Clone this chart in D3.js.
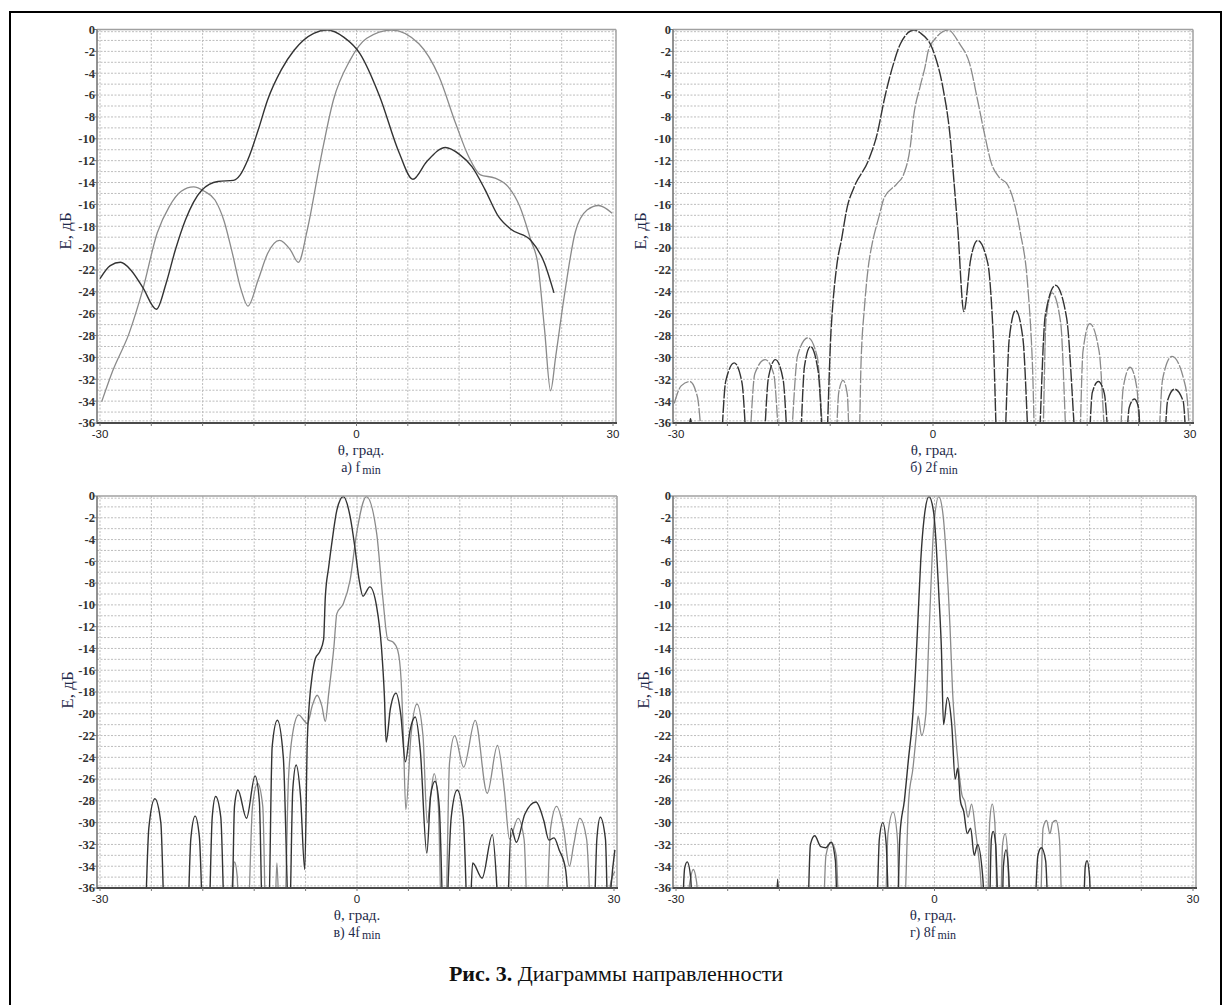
<!DOCTYPE html>
<html>
<head>
<meta charset="utf-8">
<script src="https://cdn.jsdelivr.net/npm/d3@7"></script>
<style>
  body { margin: 0; background: #fff; }
  svg { display: block; }
</style>
</head>
<body>
<div id="chart"></div>
<script>
// Диаграммы направленности: [θ, E дБ]; нули ниже -36 обрезаются рамкой
const aDark = [[-30,-22.8],[-28.8,-21.6],[-27.6,-21.3],[-26.4,-22.0],[-25.0,-23.6],[-23.4,-25.6],[-22.3,-23.3],[-21.2,-20.2],[-20.0,-17.4],[-18.1,-14.7],[-16.2,-13.9],[-14.4,-13.8],[-13.6,-13.3],[-12.7,-11.9],[-11.5,-9.2],[-10.4,-6.45],[-8.8,-3.7],[-7.3,-1.9],[-5.0,-0.35],[-3.4,-0.05],[-1.5,-0.7],[0.4,-2.2],[2.7,-6.1],[5.0,-11.3],[6.6,-13.7],[8.2,-12.1],[10.4,-10.8],[12.0,-11.4],[13.5,-12.55],[15.0,-14.6],[16.6,-17.1],[18.1,-18.3],[20.4,-19.3],[22.0,-21.4],[23.1,-24.1]];
const aGray = [[-29.8,-34.05],[-28.5,-31.2],[-26.6,-27.8],[-25.0,-23.8],[-23.3,-18.6],[-21.9,-16.2],[-20.5,-14.8],[-19.05,-14.4],[-17.8,-14.8],[-16.55,-15.6],[-15.5,-17.5],[-14.6,-20.2],[-13.5,-23.8],[-12.7,-25.3],[-11.5,-22.9],[-10.4,-20.5],[-9.0,-19.3],[-7.7,-20.2],[-6.8,-21.3],[-5.75,-18.3],[-4.2,-11.9],[-2.7,-6.45],[-0.75,-2.8],[1.2,-0.8],[4.1,-0.05],[7.3,-1.3],[9.65,-4.3],[11.6,-8.6],[13.1,-11.6],[14.5,-13.3],[16.2,-13.6],[17.75,-14.4],[19.1,-16.2],[20.4,-19.3],[21.2,-21.4],[22.0,-27.5],[22.7,-33.05],[23.3,-29.9],[24.3,-24.4],[25.6,-18.5],[27.0,-16.5],[28.3,-16.1],[29.9,-16.8]];

const bDark = [[-30.4,-40],[-28.8,-40],[-28.3,-35.6],[-27.8,-40],[-25.0,-40],[-24.2,-32.2],[-23.2,-30.5],[-22.3,-32.3],[-21.5,-40],[-20.0,-40],[-19.2,-31.8],[-18.4,-30.2],[-17.5,-32.0],[-16.7,-40],[-15.7,-40],[-15.0,-30.8],[-14.3,-29.0],[-13.4,-31.3],[-12.6,-40],[-11.9,-27.5],[-11.2,-21.4],[-10.7,-19.3],[-10.0,-16.2],[-9.2,-14.4],[-7.5,-11.9],[-6.5,-9.5],[-5.7,-6.45],[-4.6,-3.1],[-3.8,-1.3],[-2.2,-0.05],[-1.5,-0.3],[0.0,-1.9],[1.2,-5.5],[1.96,-9.5],[2.5,-14.4],[2.9,-18.3],[3.6,-25.8],[4.4,-21.0],[5.2,-19.3],[6.4,-21.4],[7.0,-27.5],[7.6,-40],[8.2,-40],[8.9,-28.3],[9.65,-25.7],[10.5,-28.3],[11.4,-40],[12.15,-40],[13.1,-26.2],[14.3,-23.4],[15.6,-26.4],[17.0,-40],[18.0,-40],[18.6,-33.2],[19.3,-32.2],[20.0,-33.3],[20.8,-40],[22.35,-40],[22.9,-34.6],[23.5,-33.8],[24.0,-34.6],[24.35,-40],[26.8,-40],[27.4,-33.9],[28.2,-32.9],[29.2,-34.0],[29.8,-40],[30.4,-40]];
const bGray = [[-30.2,-34.2],[-29.4,-32.6],[-28.4,-32.2],[-27.5,-33.6],[-26.6,-40],[-21.7,-40],[-20.8,-31.5],[-19.6,-30.2],[-18.6,-31.5],[-17.65,-40],[-16.9,-40],[-15.8,-29.8],[-14.6,-28.2],[-13.5,-30.0],[-12.5,-40],[-11.5,-40],[-11.0,-33.2],[-10.5,-32.1],[-10.0,-33.4],[-9.65,-40],[-8.7,-40],[-8.4,-30.5],[-8.0,-25.4],[-7.5,-21.4],[-7.1,-19.6],[-6.3,-17.1],[-5.7,-15.4],[-4.2,-14.1],[-3.4,-13.2],[-2.65,-10.7],[-2.27,-8.0],[-1.5,-5.2],[-0.92,-3.4],[-0.54,-1.9],[0.3,-0.8],[1.77,-0.05],[3.1,-1.3],[4.27,-3.1],[5.2,-6.45],[6.0,-9.5],[6.8,-12.2],[7.7,-13.5],[8.7,-14.2],[9.5,-15.9],[10.2,-18.6],[11.0,-22.9],[11.6,-30.5],[12.0,-40],[12.7,-40],[13.2,-26.5],[13.9,-24.1],[14.9,-26.8],[15.8,-40],[17.0,-40],[17.5,-29.5],[18.3,-26.9],[19.4,-29.5],[20.4,-40],[21.65,-40],[22.2,-32.8],[23.0,-30.9],[23.8,-32.8],[24.35,-40],[26.1,-40],[26.8,-32.0],[27.9,-29.9],[29.3,-32.1],[29.7,-34.0],[30.1,-40]];

const cDark = [[-30.4,-40],[-24.85,-40],[-24.3,-30.5],[-23.6,-27.8],[-22.9,-30.0],[-22.4,-40],[-19.85,-40],[-19.4,-31.5],[-18.9,-29.4],[-18.4,-31.3],[-17.9,-40],[-17.35,-40],[-16.9,-29.5],[-16.5,-27.6],[-15.9,-29.5],[-15.4,-40],[-14.65,-40],[-14.3,-28.5],[-13.9,-27.0],[-12.9,-29.6],[-11.9,-25.7],[-11.4,-28.0],[-11.0,-40],[-10.35,-40],[-9.9,-23.0],[-9.3,-20.6],[-8.6,-24.0],[-7.9,-40],[-7.5,-27.0],[-7.1,-24.7],[-6.6,-27.5],[-6.1,-34.3],[-5.8,-22.4],[-5.6,-19.4],[-5.2,-16.3],[-4.85,-14.9],[-4.35,-14.3],[-3.9,-13.2],[-3.7,-9.3],[-3.3,-6.5],[-2.9,-4.1],[-2.35,-1.3],[-1.6,-0.05],[-0.8,-1.9],[-0.25,-4.7],[0.25,-7.7],[0.7,-9.2],[1.5,-8.35],[2.3,-10.2],[2.85,-13.85],[3.2,-18.4],[3.4,-22.6],[3.9,-19.5],[4.55,-18.1],[5.1,-20.0],[5.65,-24.4],[6.2,-21.5],[6.8,-20.3],[7.4,-23.5],[8.15,-32.8],[8.6,-27.5],[9.1,-26.2],[9.6,-28.5],[10.15,-40],[10.3,-40],[11.0,-29.5],[11.7,-27.0],[12.4,-29.5],[13.0,-40],[13.1,-40],[13.5,-33.7],[14.6,-35.1],[15.8,-31.1],[16.8,-40],[17.45,-40],[18.0,-30.5],[18.6,-31.8],[19.6,-29.2],[20.9,-28.1],[21.8,-29.8],[22.4,-31.6],[23.0,-31.4],[23.6,-32.5],[24.35,-34.3],[25.0,-40],[27.6,-40],[28.0,-31.5],[28.4,-29.5],[29.0,-31.5],[29.35,-40],[29.6,-36.5],[30.1,-32.5]];
const cGray = [[-30.4,-40],[-14.85,-40],[-14.5,-34.8],[-14.3,-33.6],[-14.0,-34.8],[-13.7,-40],[-12.8,-40],[-12.2,-28.5],[-11.6,-26.4],[-11.0,-28.5],[-10.6,-40],[-9.65,-40],[-9.35,-33.7],[-9.0,-40],[-8.5,-40],[-8.0,-26.0],[-7.4,-21.3],[-6.8,-20.1],[-6.3,-20.5],[-5.8,-20.9],[-5.2,-19.2],[-4.65,-18.3],[-4.1,-19.3],[-3.7,-20.7],[-3.3,-18.1],[-2.7,-13.9],[-2.35,-10.8],[-1.6,-9.9],[-0.8,-7.7],[-0.05,-3.45],[1.1,-0.05],[2.3,-3.45],[3.0,-9.25],[3.6,-13.2],[4.2,-13.4],[4.75,-14.15],[5.15,-16.9],[5.4,-21.8],[5.7,-28.8],[6.3,-22.0],[7.0,-19.1],[7.7,-22.0],[8.2,-30.0],[8.6,-27.5],[9.0,-25.5],[9.5,-28.5],[9.9,-40],[10.3,-40],[10.8,-24.5],[11.4,-22.0],[12.45,-24.9],[13.8,-20.6],[15.2,-27.3],[16.4,-22.9],[17.2,-27.0],[17.8,-31.5],[18.8,-29.6],[19.5,-31.5],[20.0,-40],[22.0,-40],[22.6,-30.5],[23.3,-28.5],[24.1,-30.5],[24.8,-34.0],[25.3,-32.0],[26.0,-29.6],[26.8,-31.5],[27.45,-40],[29.0,-40],[29.6,-35.6],[30.1,-34.5]];

const dDark = [[-30.4,-40],[-29.4,-40],[-29.0,-34.2],[-28.7,-33.6],[-28.3,-35.0],[-28.0,-40],[-18.5,-40],[-18.2,-35.2],[-17.9,-40],[-14.8,-40],[-14.4,-32.0],[-13.9,-31.2],[-13.2,-32.2],[-12.6,-32.3],[-12.0,-31.8],[-11.5,-33.5],[-11.2,-40],[-6.8,-40],[-6.4,-31.5],[-6.0,-30.0],[-5.6,-32.0],[-5.2,-40],[-4.4,-40],[-4.0,-31.0],[-3.5,-28.0],[-3.0,-24.0],[-2.6,-21.0],[-2.2,-16.0],[-1.9,-11.0],[-1.6,-6.0],[-1.2,-2.0],[-0.64,-0.05],[-0.1,-1.5],[0.2,-4.5],[0.5,-9.0],[0.8,-14.0],[1.05,-21.0],[1.5,-18.5],[2.0,-21.0],[2.4,-26.0],[2.7,-25.0],[3.0,-28.0],[3.4,-29.0],[3.8,-31.0],[4.2,-30.5],[4.6,-33.0],[5.0,-32.0],[5.6,-35.0],[6.0,-40],[6.3,-40],[6.6,-31.5],[6.8,-30.8],[7.1,-32.0],[7.5,-40],[7.8,-40],[8.0,-34.0],[8.3,-32.5],[8.6,-34.5],[8.9,-40],[11.5,-40],[12.0,-33.0],[12.4,-32.3],[12.9,-33.5],[13.3,-40],[17.2,-40],[17.5,-34.0],[17.7,-33.5],[18.0,-35.0],[18.2,-40],[30.4,-40]];
const dGray = [[-30.4,-40],[-29.0,-40],[-28.4,-35.5],[-28.0,-34.3],[-27.6,-35.5],[-27.3,-40],[-13.0,-40],[-12.6,-33.0],[-12.0,-31.8],[-11.4,-33.0],[-11.0,-40],[-5.8,-40],[-5.4,-31.0],[-4.8,-29.0],[-4.3,-31.5],[-4.0,-40],[-3.6,-40],[-3.0,-28.0],[-2.5,-25.0],[-2.1,-21.8],[-1.9,-20.2],[-1.5,-22.0],[-1.0,-20.0],[-0.7,-14.0],[-0.4,-8.0],[-0.1,-3.0],[0.5,-0.05],[1.0,-1.8],[1.4,-6.0],[1.8,-12.0],[2.1,-18.0],[2.4,-21.5],[2.8,-25.0],[3.2,-27.5],[3.5,-28.0],[3.9,-29.5],[4.3,-28.3],[4.8,-31.0],[5.3,-34.5],[5.8,-40],[6.1,-40],[6.4,-30.0],[6.7,-28.3],[7.0,-30.0],[7.4,-40],[7.6,-40],[7.9,-32.0],[8.2,-31.0],[8.5,-33.0],[8.8,-40],[12.2,-40],[12.6,-30.5],[13.0,-29.8],[13.4,-31.0],[13.7,-30.0],[14.1,-29.8],[14.5,-31.5],[14.9,-40],[30.4,-40]];

// оси
const yTicks = d3.range(0, -37, -2);
const yMinor = d3.range(-1, -36, -1);
const xTicks = [-30, 0, 30];
const xGrid = d3.range(-30, 31, 6);
const subLabels = ['а) f', 'б) 2f', 'в) 4f', 'г) 8f'];

const panels = [
    { x0: 97,  x1: 616,  y0: 29.5, y1: 423, eX: 65,  eY: 231, tX: 361, dark: aDark, gray: aGray, dash: null },
    { x0: 673, x1: 1193, y0: 29.5, y1: 423, eX: 640, eY: 231, tX: 934, dark: bDark, gray: bGray, dash: '13,1.5' },
    { x0: 97,  x1: 617,  y0: 496,  y1: 888, eX: 67,  eY: 690, tX: 357, dark: cDark, gray: cGray, dash: null },
    { x0: 673, x1: 1196, y0: 496,  y1: 888, eX: 643, eY: 690, tX: 933, dark: dDark, gray: dGray, dash: null }
];

const svg = d3.select('#chart').append('svg')
    .attr('width', 1231)
    .attr('height', 1005);

// внешняя рамка
svg.append('rect')
    .attr('x', 10).attr('y', 12)
    .attr('width', 1211).attr('height', 1010)
    .attr('fill', 'none')
    .attr('stroke', '#000')
    .attr('stroke-width', 2);

panels.forEach((p, i) => {
    const x = d3.scaleLinear().domain([-30, 30]).range([p.x0 + 3, p.x1 - 3]);
    const y = d3.scaleLinear().domain([0, -36]).range([p.y0, p.y1]);
    const g = svg.append('g');

    g.append('rect')
        .attr('x', p.x0).attr('y', p.y0)
        .attr('width', p.x1 - p.x0).attr('height', p.y1 - p.y0)
        .attr('fill', '#fff');

    // сетка
    g.selectAll('.hg')
        .data(yMinor.concat([-0.2, -35.8]))
        .join('line')
        .attr('x1', p.x0).attr('x2', p.x1)
        .attr('y1', d => y(d)).attr('y2', d => y(d))
        .attr('stroke', '#bdbdbd')
        .attr('stroke-width', 1)
        .attr('stroke-dasharray', '2,1.5');

    g.selectAll('.vg')
        .data(xGrid)
        .join('line')
        .attr('x1', d => x(d)).attr('x2', d => x(d))
        .attr('y1', p.y0).attr('y2', p.y1)
        .attr('stroke', '#bdbdbd')
        .attr('stroke-width', 1)
        .attr('stroke-dasharray', '2,1.5');

    // кривые
    const clipId = 'clip' + i;
    svg.append('clipPath').attr('id', clipId)
        .append('rect')
        .attr('x', p.x0).attr('y', p.y0 - 3)
        .attr('width', p.x1 - p.x0).attr('height', p.y1 - p.y0 + 3);

    const line = d3.line()
        .x(d => x(d[0]))
        .y(d => y(d[1]))
        .curve(d3.curveMonotoneX);

    [[p.gray, '#8a8a8a', 1.3], [p.dark, '#333', 1.4]].forEach(([data, color, w]) => {
        g.append('path')
            .datum(data)
            .attr('clip-path', `url(#${clipId})`)
            .attr('fill', 'none')
            .attr('stroke', color)
            .attr('stroke-width', w)
            .attr('stroke-dasharray', p.dash)
            .attr('d', line);
    });

    // рамка графика
    g.append('line').attr('x1', p.x0).attr('x2', p.x1).attr('y1', p.y0).attr('y2', p.y0)
        .attr('stroke', '#a0a0a0').attr('stroke-width', 1.5);
    g.append('line').attr('x1', p.x1).attr('x2', p.x1).attr('y1', p.y0).attr('y2', p.y1)
        .attr('stroke', '#a0a0a0').attr('stroke-width', 1.5);
    g.append('line').attr('x1', p.x0).attr('x2', p.x0).attr('y1', p.y0).attr('y2', p.y1 + 1)
        .attr('stroke', '#777').attr('stroke-width', 1.6);
    g.append('line').attr('x1', p.x0).attr('x2', p.x1 + 1).attr('y1', p.y1).attr('y2', p.y1)
        .attr('stroke', '#4a4a4a').attr('stroke-width', 2.2);

    // метки Y
    g.selectAll('.yt')
        .data(yTicks)
        .join('line')
        .attr('x1', p.x0 - 3).attr('x2', p.x0)
        .attr('y1', d => y(d)).attr('y2', d => y(d))
        .attr('stroke', '#777');

    g.selectAll('.yl')
        .data(yTicks)
        .join('text')
        .attr('x', p.x0 - 2)
        .attr('y', d => y(d))
        .attr('dy', '0.35em')
        .attr('text-anchor', 'end')
        .style('font-family', '"Liberation Serif", serif')
        .style('font-size', '12.5px')
        .style('font-weight', 'bold')
        .style('fill', '#333')
        .text(d => d);

    // метки X
    g.selectAll('.xt')
        .data(xGrid)
        .join('line')
        .attr('x1', d => x(d)).attr('x2', d => x(d))
        .attr('y1', p.y1).attr('y2', p.y1 + 3)
        .attr('stroke', '#777');

    g.selectAll('.xl')
        .data(xTicks)
        .join('text')
        .attr('x', d => x(d))
        .attr('y', p.y1 + 15)
        .attr('text-anchor', 'middle')
        .style('font-family', '"Liberation Sans", sans-serif')
        .style('font-size', '11.5px')
        .style('fill', '#222')
        .text(d => d);

    // подписи осей
    g.append('text')
        .attr('transform', `translate(${p.eX},${p.eY}) rotate(-90)`)
        .attr('text-anchor', 'middle')
        .attr('dy', '0.35em')
        .style('font-family', '"Liberation Serif", serif')
        .style('font-size', '17px')
        .style('fill', '#1e2a4a')
        .text('E, дБ');

    g.append('text')
        .attr('x', p.tX)
        .attr('y', p.y1 + 32)
        .attr('text-anchor', 'middle')
        .style('font-family', '"Liberation Serif", serif')
        .style('font-size', '15px')
        .style('fill', '#1e2a4a')
        .text('θ, град.');

    const sub = g.append('text')
        .attr('x', p.tX)
        .attr('y', p.y1 + 49)
        .attr('text-anchor', 'middle')
        .style('font-family', '"Liberation Serif", serif')
        .style('font-size', '14px')
        .style('fill', '#1e2a4a');
    sub.append('tspan').text(subLabels[i]);
    sub.append('tspan').attr('dx', 2).attr('dy', 2).style('font-size', '12px').text('min');
});

// заголовок рисунка
const title = svg.append('text')
    .attr('x', 616)
    .attr('y', 981)
    .attr('text-anchor', 'middle')
    .style('font-family', '"Liberation Serif", serif')
    .style('font-size', '22px')
    .style('fill', '#111');
title.append('tspan').style('font-weight', 'bold').text('Рис. 3.');
title.append('tspan').text(' Диаграммы направленности');
</script>
</body>
</html>
